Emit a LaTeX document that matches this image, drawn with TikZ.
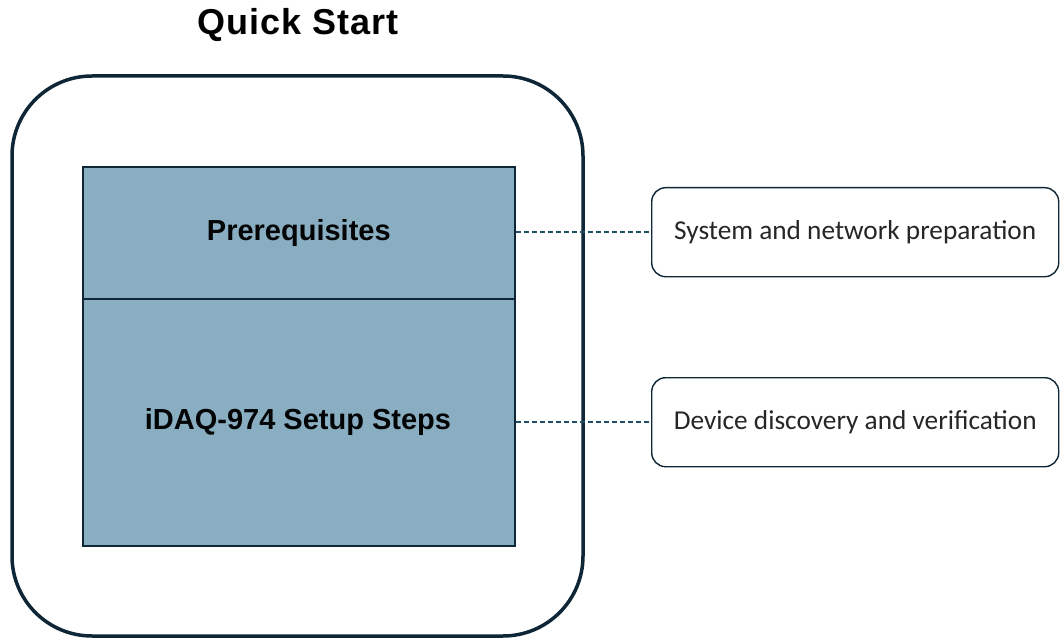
\documentclass[tikz,border=0pt]{standalone}
\usepackage{fontspec}
\setmainfont{Liberation Sans}
\newfontfamily\calib{Carlito}
\definecolor{navy}{HTML}{0E2635}
\definecolor{boxfill}{HTML}{8AAEC1}
\definecolor{dashc}{HTML}{1F4E69}
\begin{document}
\begin{tikzpicture}[x=1pt,y=-1pt,
  outerbox/.style={draw=navy,line width=3.5pt,rounded corners=80pt},
  innerbox/.style={draw=navy,line width=1.6pt,fill=boxfill,inner sep=0pt},
  notebox/.style={draw=navy,line width=1.4pt,rounded corners=14pt,fill=white,inner sep=0pt},
  boxtext/.style={text=black!90!navy,font=\bfseries\fontsize{29}{34}\selectfont},
  notetext/.style={font=\calib\fontsize{27.3}{32}\selectfont,text=black!85},
  link/.style={draw=dashc,line width=1.5pt,dash pattern=on 5pt off 3pt}]
\useasboundingbox (0,0) rectangle (1060,639);
\node[font=\bfseries\addfontfeature{LetterSpace=3}\fontsize{36}{40}\selectfont] (title) at (298,25) {Quick Start};
\draw[outerbox] (12,76) rectangle (583,636);
\node[innerbox,minimum width=432pt,minimum height=132pt,anchor=north west,boxtext] (pre) at (82,166) {Prerequisites};
\node[innerbox,minimum width=432pt,minimum height=247pt,anchor=north west] (setup) at (82,298) {};
\node[boxtext] (setuplbl) at (298,422) {iDAQ-974 Setup Steps};
\node[notebox,minimum width=407pt,minimum height=89pt,anchor=north west,notetext] (sys) at (651,187) {System and network preparation};
\node[notebox,minimum width=407pt,minimum height=89pt,anchor=north west,notetext] (dev) at (651,377) {Device discovery and verification};
\draw[link] (pre.east |- sys.west) -- (sys.west);
\draw[link] (setup.east |- dev.west) -- (dev.west);
\end{tikzpicture}
\end{document}
